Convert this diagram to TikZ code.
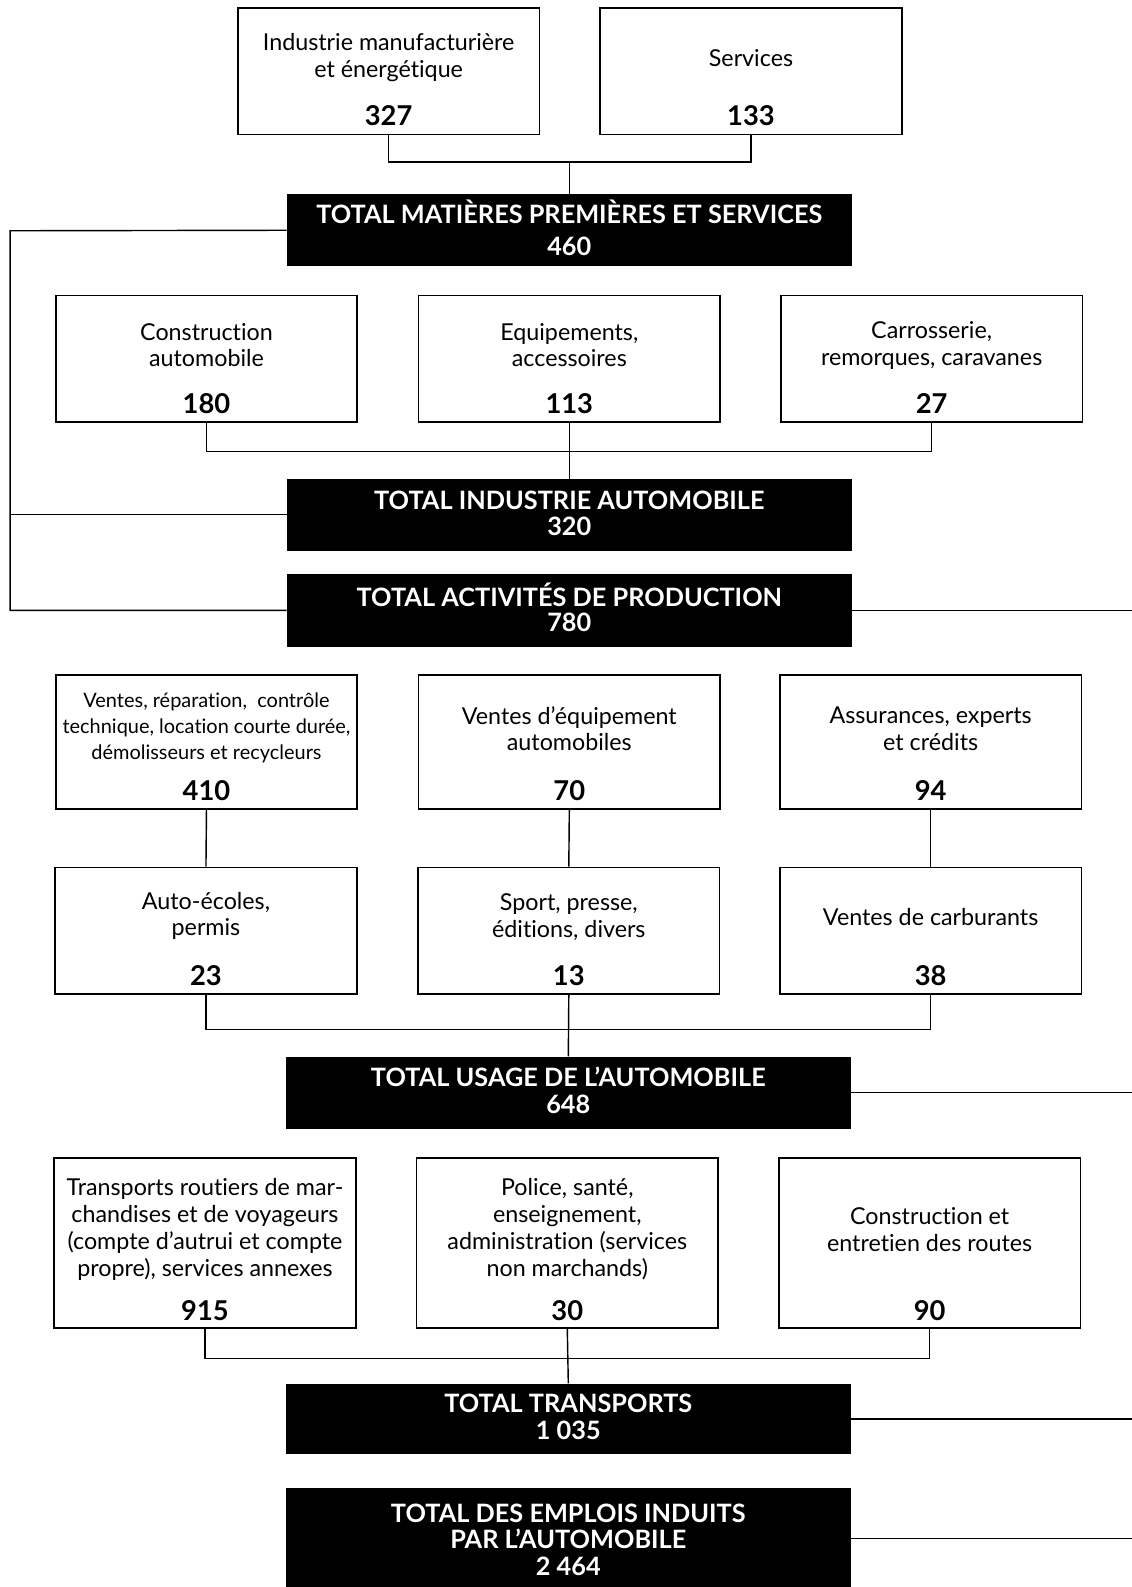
\documentclass[tikz,border=0pt]{standalone}
\usepackage{fontspec}
\setmainfont{Lato}[Ligatures=NoCommon]
\begin{document}
\begin{tikzpicture}[x=1pt,y=-1pt,
  wbox/.style={draw, line width=1.7pt, fill=white, minimum width=298pt, minimum height=125pt, inner sep=0pt},
  tbox/.style={fill=black, minimum width=558pt, minimum height=71pt, inner sep=0pt},
  txt/.style={align=center, font=\fontsize{23}{26.5}\selectfont, inner sep=0pt},
  small/.style={align=center, font=\fontsize{19.7}{26}\selectfont, inner sep=0pt},
  num/.style={font=\fontsize{27}{28}\selectfont\bfseries, inner sep=0pt},
  ttl/.style={align=center, text=white, font=\fontsize{25}{26.5}\selectfont\bfseries, inner sep=0pt},
  link/.style={line width=1.4pt}
]
\useasboundingbox (0,0) rectangle (1118,1568);

% raw materials and services
\node[wbox] (A1) at (384,70.5) {};
\node[wbox] (A2) at (742,70.5) {};
\node[txt] (A1t) at (384,56.5) {Industrie manufacturière\\et énergétique};
\node[num] (A1n) at (384,114) {327};
\node[txt] (A2t) at (742,57) {Services};
\node[num] (A2n) at (742,114) {133};
\node[tbox] (T1) at (562.5,227.5) {};
\node[ttl] (T1t) at (562.5,209) {TOTAL MATIÈRES PREMIÈRES ET SERVICES};
\node[ttl] (T1n) at (562.5,243) {460};

% automobile industry
\node[wbox] (B1) at (204,354.5) {};
\node[wbox] (B2) at (562.5,354.5) {};
\node[wbox] (B3) at (920.5,354.5) {};
\node[txt] (B1t) at (204,341) {Construction\\automobile};
\node[txt] (B2t) at (562.5,341) {Equipements,\\accessoires};
\node[txt] (B3t) at (920.5,341) {Carrosserie,\\remorques, caravanes};
\node[num] (B1n) at (204,399) {180};
\node[num] (B2n) at (562.5,399) {113};
\node[num] (B3n) at (920.5,399) {27};
\node[tbox] (T2) at (562.5,508.5) {};
\node[ttl] (T2t) at (562.5,494) {TOTAL INDUSTRIE AUTOMOBILE};
\node[ttl] (T2n) at (562.5,520) {320};
\node[tbox,minimum height=72pt] (T3) at (562.5,603) {};
\node[ttl] (T3t) at (562.5,588) {TOTAL ACTIVITÉS DE PRODUCTION};
\node[ttl] (T3n) at (562.5,615) {780};

% use of the automobile
\node[wbox,minimum height=132pt] (C1) at (204,733) {};
\node[wbox,minimum height=132pt] (C2) at (562.5,733) {};
\node[wbox,minimum height=132pt] (C3) at (919.5,733) {};
\node[small] (C1t) at (204,719) {Ventes, réparation,\ \ contrôle\\technique, location courte durée,\\démolisseurs et recycleurs};
\node[txt] (C2t) at (562.5,720) {Ventes d’équipement\\automobiles};
\node[txt] (C3t) at (919.5,720) {Assurances, experts\\et crédits};
\node[num] (C1n) at (204,781) {410};
\node[num] (C2n) at (562.5,781) {70};
\node[num] (C3n) at (919.5,781) {94};
\node[wbox] (D1) at (203.5,919.5) {};
\node[wbox] (D2) at (562,919.5) {};
\node[wbox] (D3) at (919.5,919.5) {};
\node[txt] (D1t) at (203.5,905) {Auto-écoles,\\permis};
\node[txt] (D2t) at (562,906) {Sport, presse,\\éditions, divers};
\node[txt] (D3t) at (919.5,906) {Ventes de carburants};
\node[num] (D1n) at (203.5,964) {23};
\node[num] (D2n) at (562,964) {13};
\node[num] (D3n) at (919.5,964) {38};
\node[tbox] (T4) at (561.5,1079.5) {};
\node[ttl] (T4t) at (561.5,1064) {TOTAL USAGE DE L’AUTOMOBILE};
\node[ttl] (T4n) at (561.5,1091) {648};

% transport
\node[wbox,minimum height=168pt] (E1) at (202.5,1228) {};
\node[wbox,minimum height=168pt] (E2) at (560.5,1228) {};
\node[wbox,minimum height=168pt] (E3) at (918.5,1228) {};
\node[txt] (E1t) at (202.5,1214.5) {Transports routiers de mar-\\chandises et de voyageurs\\(compte d’autrui et compte\\propre), services annexes};
\node[txt] (E2t) at (560.5,1214.5) {Police, santé,\\enseignement,\\administration (services\\non marchands)};
\node[txt] (E3t) at (918.5,1215) {Construction et\\entretien des routes};
\node[num] (E1n) at (202.5,1295) {915};
\node[num] (E2n) at (560.5,1295) {30};
\node[num] (E3n) at (918.5,1295) {90};
\node[tbox,minimum height=70pt] (T5) at (561.5,1402) {};
\node[ttl] (T5t) at (561.5,1387) {TOTAL TRANSPORTS};
\node[ttl] (T5n) at (561.5,1413) {1 035};
\node[tbox,minimum height=100pt] (T6) at (561.5,1520) {};
\node[ttl] (T6t) at (561.5,1508) {TOTAL DES EMPLOIS INDUITS\\PAR L’AUTOMOBILE};
\node[ttl] (T6n) at (561.5,1548) {2 464};

% connectors
\coordinate (jA) at (562.5,160);
\coordinate (jB) at (562.5,446);
\coordinate (jD) at (562,1017);
\coordinate (jE) at (560.5,1342);
\coordinate (L) at (10,228);
\coordinate (R) at (1118,0);

\draw[link] (A1.south) |- (jA) -| (A2.south);
\draw[link] (jA) -- (T1.north);
\draw[link] (B1.south) |- (jB) -| (B3.south);
\draw[link] (B2.south) -- (T2.north);
\draw[link] (T1.west) -- (L) |- (T3.west);
\draw[link] (T2.west) -- (T2.west -| L);
\draw[link] (T3.east) -- (T3.east -| R);
\draw[link] (C1.south) -- (D1.north);
\draw[link] (C2.south) -- (D2.north);
\draw[link] (C3.south) -- (D3.north);
\draw[link] (D1.south) |- (jD) -| (D3.south);
\draw[link] (D2.south) -- (T4.north);
\draw[link] (T4.east) -- (T4.east -| R);
\draw[link] (E1.south) |- (jE) -| (E3.south);
\draw[link] (E2.south) -- (T5.north);
\draw[link] (T5.east) -- (T5.east -| R);
\draw[link] (T6.east) -- (T6.east -| R);
\end{tikzpicture}
\end{document}
